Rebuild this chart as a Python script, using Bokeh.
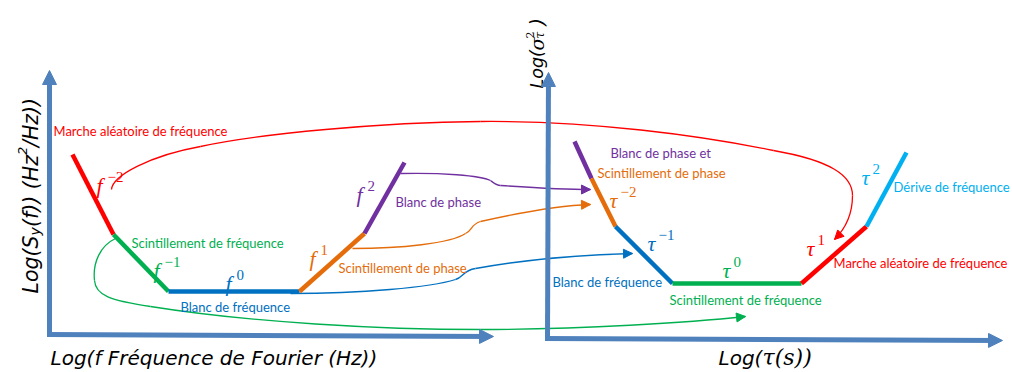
import math
from bokeh.plotting import figure
from bokeh.models import Range1d, Arrow, NormalHead
from bokeh.core.properties import value
from bokeh.embed import file_html
from bokeh.resources import INLINE

# ---------------- data (diagram coordinates = reference pixels) ----------------
RED, GREEN, BLUE, ORANGE, PURPLE, CYAN = "#ff0000", "#00b050", "#0070c0", "#e46c0a", "#7030a0", "#00b0f0"
AXIS = "#4f81bd"

# Left panel: spectral density S_y(f), break points of the asymptotes
sy_x = [72, 113, 168, 299, 364, 404]
sy_y = [154, 234, 291, 291, 233, 162]
sy_colors = [RED, GREEN, BLUE, ORANGE, PURPLE]
sy_exp = ["−2", "−1", "0", "1", "2"]
sy_exp_x = [96, 153, 225, 309, 356]
sy_exp_y = [185, 270, 283, 258, 194]
sy_names = ["Marche aléatoire de fréquence", "Scintillement de fréquence",
            "Blanc de fréquence", "Scintillement de phase", "Blanc de phase"]
sy_name_x = [53, 131, 180, 338, 395]
sy_name_y = [130, 242, 306, 267, 201]

# Right panel: Allan variance sigma^2(tau)
av_x = [574, 591, 615, 672, 801, 866, 906]
av_y = [141, 178, 226, 283, 283, 226, 152]
av_colors = [PURPLE, ORANGE, BLUE, GREEN, RED, CYAN]
av_exp = ["−2", "−1", "0", "1", "2"]
av_exp_x = [609, 647, 722, 806, 861]
av_exp_y = [200, 243, 270, 248, 177]
av_exp_colors = [ORANGE, BLUE, GREEN, RED, CYAN]
av_names = ["Blanc de phase et", "Scintillement de phase", "Blanc de fréquence",
            "Scintillement de fréquence", "Marche aléatoire de fréquence", "Dérive de fréquence"]
av_name_x = [610, 597, 552, 669, 833, 893]
av_name_y = [152, 172, 281, 299, 262, 186]
av_name_colors = [PURPLE, ORANGE, BLUE, GREEN, RED, CYAN]

# Correspondence curves (cubic bezier pieces: x0,y0, cx0,cy0, cx1,cy1, x1,y1)
links = {
    RED: [(111, 189, 112, 175, 150, 155, 200, 146),
          (200, 146, 260, 133, 380, 122, 480, 121),
          (480, 121, 590, 120, 700, 135, 773, 150),
          (773, 150, 830, 160, 852, 175, 852, 195),
          (852, 195, 852, 215, 845, 228, 834, 239)],
    PURPLE: [(400, 173, 440, 172, 480, 175, 490, 180),
             (490, 180, 494, 183, 496, 185, 500, 185),
             (500, 185, 530, 187, 560, 189, 590, 189)],
    ORANGE: [(352, 248, 400, 248, 450, 243, 465, 233),
             (465, 233, 472, 230, 470, 224, 480, 221),
             (480, 221, 520, 212, 560, 205, 590, 204)],
    BLUE: [(290, 293, 360, 293, 430, 287, 455, 279),
           (455, 279, 463, 277, 462, 270, 475, 268),
           (475, 268, 530, 258, 590, 254, 632, 253)],
    GREEN: [(115, 238, 100, 245, 92, 262, 94, 280),
            (94, 280, 95, 295, 110, 300, 150, 306),
            (150, 306, 250, 322, 380, 329, 480, 329),
            (480, 329, 580, 329, 690, 322, 745, 316)],
}

# axes (start / end points of the arrows)
axes = [(49, 336, 49, 70), (46.5, 334, 493, 336), (547, 340, 548, 72), (544.5, 338, 1002, 340)]

# ---------------- figure ----------------
p = figure(width=1012, height=372, x_range=Range1d(0, 1012), y_range=Range1d(372, 0),
           output_backend="svg", toolbar_location=None, min_border=0)
p.axis.visible = False
p.grid.visible = False
p.outline_line_color = None
p.background_fill_color = "white"

for x0, y0, x1, y1 in axes:
    p.add_layout(Arrow(x_start=x0, y_start=y0, x_end=x1, y_end=y1, line_color=AXIS, line_width=5,
                       end=NormalHead(size=14, fill_color=AXIS, line_color=AXIS)))

for c, segs in links.items():
    p.bezier(x0=[s[0] for s in segs], y0=[s[1] for s in segs],
             cx0=[s[2] for s in segs], cy0=[s[3] for s in segs],
             cx1=[s[4] for s in segs], cy1=[s[5] for s in segs],
             x1=[s[6] for s in segs], y1=[s[7] for s in segs],
             line_color=c, line_width=1.3)
    last = segs[-1]
    p.add_layout(Arrow(x_start=last[4], y_start=last[5], x_end=last[6], y_end=last[7],
                       line_color=c, line_width=0.1, line_alpha=0,
                       end=NormalHead(size=9, fill_color=c, line_color=c)))

for xs, ys, cols in [(sy_x, sy_y, sy_colors), (av_x, av_y, av_colors)]:
    for i, c in enumerate(cols):
        p.line(xs[i:i + 2], ys[i:i + 2], line_color=c, line_width=4.5)

SERIF = value("Liberation Serif")
SANS = value("Lato")
TSANS = value("DejaVu Sans")
TSERIF = value("DejaVu Serif")

def exp_labels(base, xs, ys, exps, cols):
    p.text(xs, ys, text=[base] * len(xs), text_color=cols, text_font=SERIF,
           text_font_style="italic", text_font_size="22px", text_baseline="alphabetic")
    p.text([x + 11 for x in xs], [y - 9 for y in ys], text=exps, text_color=cols, text_font=SERIF,
           text_font_size="15px", text_baseline="alphabetic")

exp_labels("f", sy_exp_x, sy_exp_y, sy_exp, sy_colors)
exp_labels("τ", av_exp_x, av_exp_y, av_exp, av_exp_colors)

p.text(sy_name_x, sy_name_y, text=sy_names, text_color=sy_colors, text_font=SANS,
       text_font_size="13px", text_baseline="middle")
p.text(av_name_x, av_name_y, text=av_names, text_color=av_name_colors, text_font=SANS,
       text_font_size="13px", text_baseline="middle")

def t(x, y, s, font, size, style="italic", angle=0.0):
    p.text([x], [y], text=[s], text_font=font, text_font_style=style, text_font_size=size,
           text_color="black", angle=angle, text_baseline="alphabetic")

# axis titles
t(50, 357, "Log(f Fréquence de Fourier (Hz))", TSANS, "20px")
t(718, 357, "Log(", TSANS, "20px")
t(762, 357, "τ(s))", TSERIF, "22px")

A = math.pi / 2
t(30, 293, "Log(S", TSANS, "20.5px", angle=A)
t(34, 235, "y", TSANS, "14px", angle=A)
t(30, 226.5, "(f)) (Hz", TSANS, "20.5px", angle=A)
t(22, 154.5, "2", TSANS, "13px", angle=A)
t(30, 146.5, "/Hz))", TSANS, "20.5px", angle=A)

t(536, 88, "Log(", TSANS, "17.5px", angle=A)
t(536, 50, "σ", TSERIF, "19px", angle=A)
t(529, 38, "2", TSERIF, "11px", style="normal", angle=A)
t(539, 38, "τ", TSERIF, "12px", angle=A)
t(536, 25, ")", TSANS, "19px", angle=A)

open("out.html", "w").write(file_html(p, INLINE))
